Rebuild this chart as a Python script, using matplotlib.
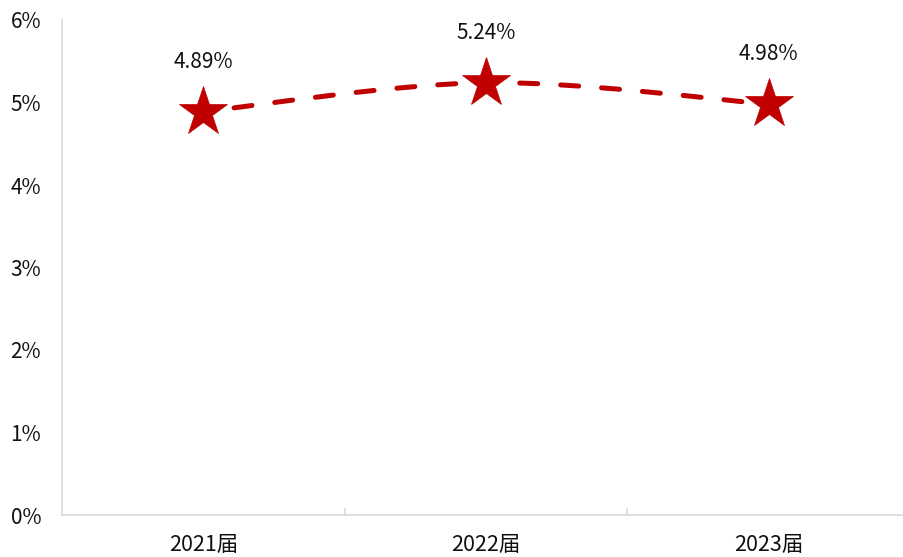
import matplotlib.pyplot as plt
from matplotlib.path import Path
from matplotlib.patches import PathPatch
import numpy as np

plt.rcParams['font.family'] = ['Noto Sans CJK SC', 'DejaVu Sans']

# data
categories = ['2021届', '2022届', '2023届']
rates = [4.89, 5.24, 4.98]
labels = ['4.89%', '5.24%', '4.98%']

red = '#C00000'
grey = '#D9D9D9'
txt = '#111111'

fig = plt.figure(figsize=(9.04, 5.57), dpi=100)
ax = fig.add_axes([62/904, 42/557, 848/904, 495/557])

x = np.arange(len(categories))
y = np.array(rates, dtype=float)

# smooth line like Excel (bezier through the points)
verts = [(x[0], y[0])]
codes = [Path.MOVETO]
for i in range(len(x) - 1):
    p0 = np.array([x[max(i-1, 0)], y[max(i-1, 0)]])
    p1 = np.array([x[i], y[i]])
    p2 = np.array([x[i+1], y[i+1]])
    p3 = np.array([x[min(i+2, len(x)-1)], y[min(i+2, len(x)-1)]])
    c1 = p1 + (p2 - p0) / 6
    c2 = p2 - (p3 - p1) / 6
    verts += [tuple(c1), tuple(c2), tuple(p2)]
    codes += [Path.CURVE4] * 3
patch = PathPatch(Path(verts, codes), facecolor='none', edgecolor=red, lw=3.6,
                  linestyle=(2, (3.6, 4.6)), capstyle='round', zorder=2)
ax.add_patch(patch)

ax.plot(x, y, linestyle='none', marker='*', markersize=37, color=red,
        markeredgecolor=red, markeredgewidth=0.5, zorder=3)

for xi, yi, t in zip(x, y, labels):
    ax.annotate(t, (xi, yi), xytext=(0, 36), textcoords='offset points',
                ha='center', va='center', fontsize=15, color=txt)

ax.set_xlim(-0.5, 2.5)
ax.set_ylim(0, 6)
ax.set_yticks(range(0, 7))
ax.set_yticklabels([f'{v}%' for v in range(0, 7)])
ax.set_xticks(x)
ax.set_xticklabels(categories)
ax.set_xticks([0.5, 1.5], minor=True)

for s in ['top', 'right']:
    ax.spines[s].set_visible(False)
for s in ['left', 'bottom']:
    ax.spines[s].set_color(grey)
    ax.spines[s].set_linewidth(1.2)

ax.tick_params(axis='y', length=0, pad=15, labelsize=15, labelcolor=txt)
ax.tick_params(axis='x', which='major', length=0, pad=14, labelsize=15.5, labelcolor=txt)
ax.tick_params(axis='x', which='minor', length=5, direction='in', color=grey, width=1.2)

fig.savefig('out.png', dpi=100)
